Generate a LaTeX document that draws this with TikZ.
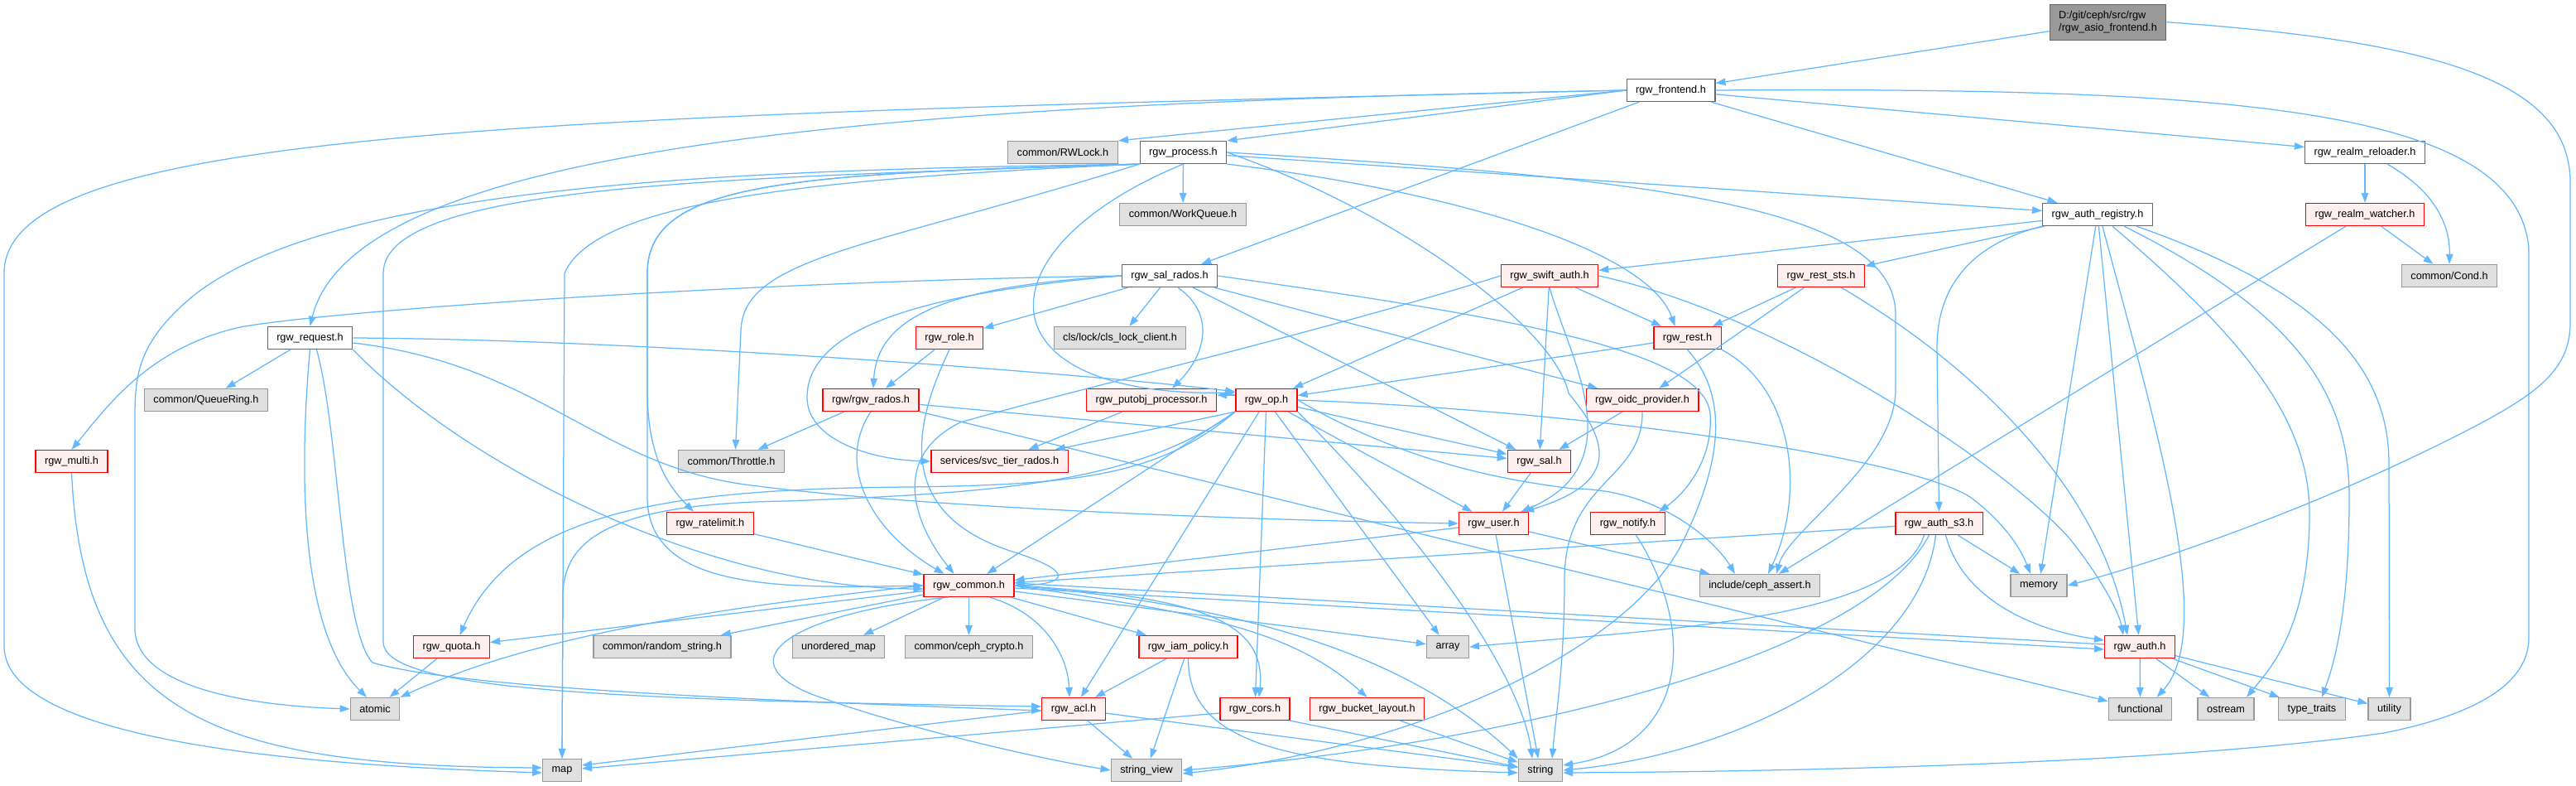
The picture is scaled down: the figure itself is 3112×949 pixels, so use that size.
\documentclass[tikz,border=0pt]{standalone}
\usepackage{fontspec}
\setmainfont{Liberation Sans}
\usetikzlibrary{arrows.meta}
\definecolor{edgeblue}{HTML}{63B8FF}
\definecolor{docgray}{HTML}{666666}
\definecolor{truncred}{HTML}{FF0000}
\definecolor{truncpink}{HTML}{FFF0F0}
\definecolor{sysgray}{HTML}{999999}
\definecolor{sysfill}{HTML}{E0E0E0}
\definecolor{rootgray}{HTML}{999999}
\begin{document}
\begin{tikzpicture}[
	x=1pt, y=1pt,
	box/.style={ draw, line width=1.3pt, font=\fontsize{12.7pt}{15pt}\selectfont, inner xsep=11pt, inner ysep=0pt, minimum height=27pt },
	doc/.style={ box, draw=docgray, fill=white },
	trunc/.style={ box, draw=truncred, fill=truncpink },
	sys/.style={ box, draw=sysgray, fill=sysfill },
	rootbox/.style={ box, draw=docgray, fill=rootgray, align=left, minimum height=43pt },
	dep/.style={ edgeblue, line width=1.25pt, -{Triangle[length=12pt,width=8.5pt]} }
]

\path[use as bounding box, fill=white] (0,0) rectangle (3112,-949);

\node at (2546.5,-26.7) (root) [rootbox] {D:/git/ceph/src/rgw\\/rgw\_asio\_frontend.h};
\node at (2018.5,-109) (frontend) [doc] {rgw\_frontend.h};
\node at (1284,-184) (rwlock) [sys] {common/RWLock.h};
\node at (1429.5,-184) (process) [doc] {rgw\_process.h};
\node at (2857,-184) (reloader) [doc] {rgw\_realm\_reloader.h};
\node at (1429,-259) (workqueue) [sys] {common/WorkQueue.h};
\node at (2534,-259) (authreg) [doc] {rgw\_auth\_registry.h};
\node at (2857,-259) (watcher) [trunc] {rgw\_realm\_watcher.h};
\node at (2959,-333) (cond) [sys] {common/Cond.h};
\node at (1413,-333) (salrados) [doc] {rgw\_sal\_rados.h};
\node at (1872,-333) (swiftauth) [trunc] {rgw\_swift\_auth.h};
\node at (2200,-333) (reststs) [trunc] {rgw\_rest\_sts.h};
\node at (374.5,-408) (request) [doc] {rgw\_request.h};
\node at (1147,-408) (role) [trunc] {rgw\_role.h};
\node at (1353,-408) (clslock) [sys] {cls/lock/cls\_lock\_client.h};
\node at (2038.5,-408) (rest) [trunc] {rgw\_rest.h};
\node at (249,-483) (queuering) [sys] {common/QueueRing.h};
\node at (1052,-483) (rados) [trunc] {rgw/rgw\_rados.h};
\node at (1391,-483) (putobj) [trunc] {rgw\_putobj\_processor.h};
\node at (1530,-483) (op) [trunc] {rgw\_op.h};
\node at (1984,-483) (oidc) [trunc] {rgw\_oidc\_provider.h};
\node at (86.5,-557) (multi) [trunc] {rgw\_multi.h};
\node at (883.5,-557) (throttle) [sys] {common/Throttle.h};
\node at (1207.5,-557) (svctier) [trunc] {services/svc\_tier\_rados.h};
\node at (1859.5,-557) (sal) [trunc] {rgw\_sal.h};
\node at (858,-632) (ratelimit) [trunc] {rgw\_ratelimit.h};
\node at (1804.5,-632) (user) [trunc] {rgw\_user.h};
\node at (1966.5,-632) (notify) [trunc] {rgw\_notify.h};
\node at (2342.5,-632) (auths3) [trunc] {rgw\_auth\_s3.h};
\node at (1170.5,-707) (common) [trunc] {rgw\_common.h};
\node at (2126,-707) (cephassert) [sys] {include/ceph\_assert.h};
\node at (2463,-707) (memory) [sys] {memory};
\node at (545.5,-781) (quota) [trunc] {rgw\_quota.h};
\node at (800,-781) (randstr) [sys] {common/random\_string.h};
\node at (1013,-781) (umap) [sys] {unordered\_map};
\node at (1170.5,-781) (crypto) [sys] {common/ceph\_crypto.h};
\node at (1435.5,-781) (iam) [trunc] {rgw\_iam\_policy.h};
\node at (1749,-781) (array) [sys] {array};
\node at (2585,-781) (auth) [trunc] {rgw\_auth.h};
\node at (453,-856) (atomic) [sys] {atomic};
\node at (1297,-856) (acl) [trunc] {rgw\_acl.h};
\node at (1516,-856) (cors) [trunc] {rgw\_cors.h};
\node at (1651.5,-856) (layout) [trunc] {rgw\_bucket\_layout.h};
\node at (2585.5,-856) (functional) [sys] {functional};
\node at (2689,-856) (ostream) [sys] {ostream};
\node at (2793,-856) (typetraits) [sys] {type\_traits};
\node at (2886.5,-856) (utility) [sys] {utility};
\node at (679,-930) (map) [sys] {map};
\node at (1385,-930) (strview) [sys] {string\_view};
\node at (1861,-930) (string) [sys] {string};

\draw[dep] (root) -- (frontend);
\draw[dep] (root.east) .. controls (2950,-50) and (3105,-100) .. (3105,-220) -- (3105,-390) .. controls (3105,-450) and (3060,-480) .. (2960,-530) .. controls (2780,-620) and (2600,-680) .. (memory.east);

\draw[dep] (frontend.west) -- (rwlock.north east);
\draw[dep] (frontend.west) -- (process.north east);
\draw[dep] (frontend.west) .. controls (1100,-125) and (430,-170) .. (request.north);
\draw[dep] (frontend.west) .. controls (600,-140) and (5,-160) .. (5,-330) -- (5,-780) .. controls (5,-900) and (400,-925) .. ([yshift=-3]map.west);
\draw[dep] (frontend) -- (salrados);
\draw[dep] (frontend.east) .. controls (2700,-105) and (3040,-130) .. (3055,-300) -- (3055,-770) .. controls (3055,-830) and (2980,-865) .. (2880,-885) .. controls (2600,-925) and (2100,-932) .. ([yshift=-3]string.east);
\draw[dep] (frontend) -- (reloader);
\draw[dep] (frontend) -- (authreg);

\draw[dep] (process) -- (workqueue);
\draw[dep] (process) -- (authreg);
\draw[dep] (process.east) .. controls (2000,-215) and (2290,-250) .. (2290,-380) -- (2290,-470) .. controls (2290,-560) and (2160,-640) .. ([xshift=20]cephassert.north);
\draw[dep] (process.south east) .. controls (1750,-230) and (1990,-300) .. ([xshift=-15]rest.north);
\draw[dep] (process.south) .. controls (1180,-300) and (1180,-480) .. ([yshift=9]op.west);
\draw[dep] (process.south west) .. controls (1050,-300) and (897,-310) .. (895,-400) -- ([xshift=5]throttle.north);
\draw[dep] (process.south west) .. controls (950,-210) and (782,-220) .. (782,-330) -- (782,-470) .. controls (782,-540) and (800,-580) .. ([xshift=-20]ratelimit.north);
\draw[dep] (process.south west) .. controls (950,-210) and (782,-220) .. (782,-330) -- (782,-600) .. controls (782,-715) and (950,-710) .. (common.west);
\draw[dep] (process.south west) .. controls (900,-205) and (400,-220) .. (230,-360) .. controls (160,-420) and (163,-460) .. (163,-520) -- (163,-760) .. controls (165,-830) and (300,-852) .. (atomic.west);
\draw[dep] (process.south west) .. controls (900,-215) and (463,-220) .. (463,-330) -- (463,-775) .. controls (463,-830) and (700,-845) .. ([yshift=3]acl.west);
\draw[dep] (process.south west) .. controls (1000,-215) and (720,-240) .. (682,-330) -- (map.north);
\draw[dep] (process.east) .. controls (1700,-260) and (1880,-400) .. (1895,-475) .. controls (1950,-540) and (1950,-585) .. ([xshift=-6]user.north east);

\draw[dep] (request) -- (queuering);
\draw[dep] (request.south) .. controls (362,-560) and (360,-760) .. ([xshift=-10]atomic.north);
\draw[dep] ([xshift=8]request.south) .. controls (410,-520) and (412,-760) .. (450,-800) .. controls (550,-830) and (900,-845) .. ([yshift=-2]acl.west);
\draw[dep] (request.south east) .. controls (560,-560) and (850,-710) .. ([yshift=-4]common.west);
\draw[dep] (request.east) .. controls (800,-410) and (1350,-455) .. ([yshift=10]op.west);
\draw[dep] ([yshift=-6]request.east) .. controls (650,-440) and (720,-560) .. (900,-585) .. controls (1100,-612) and (1500,-628) .. (user.west);

\draw[dep] (salrados.west) .. controls (900,-340) and (400,-375) .. (290,-395) .. controls (180,-420) and (130,-490) .. (multi.north);
\draw[dep] (salrados.west) .. controls (1100,-355) and (975,-400) .. (975,-480) .. controls (975,-530) and (1050,-555) .. (svctier.west);
\draw[dep] (salrados.west) .. controls (1150,-345) and (1060,-380) .. ([xshift=3]rados.north);
\draw[dep] (salrados) -- (role);
\draw[dep] (salrados) -- (clslock);
\draw[dep] ([xshift=10]salrados.south) .. controls (1470,-380) and (1455,-430) .. ([xshift=25]putobj.north);
\draw[dep] (salrados) -- (sal);
\draw[dep] (salrados) -- (oidc);
\draw[dep] (salrados.east) .. controls (1800,-380) and (2060,-420) .. (2066,-500) .. controls (2070,-560) and (2030,-600) .. ([xshift=-8]notify.north east);

\draw[dep] (role) -- (rados);
\draw[dep] (role.south) .. controls (1100,-520) and (1085,-620) .. (1220,-665) .. controls (1300,-690) and (1290,-705) .. (common.east);

\draw[dep] (rados) -- (throttle);
\draw[dep] (rados.south) .. controls (1010,-560) and (1050,-640) .. ([xshift=-30]common.north);
\draw[dep] (rados) -- (sal);
\draw[dep] (rados) -- (functional);
\draw[dep] (putobj) -- (svctier);

\draw[dep] ([yshift=6]op.west) -- ([yshift=6]putobj.east);
\draw[dep] (op.south west) -- (svctier);
\draw[dep] (op.south west) -- (common);
\draw[dep] (op.south west) .. controls (1400,-575) and (1300,-585) .. (1100,-588) .. controls (800,-590) and (620,-620) .. ([xshift=10]quota.north);
\draw[dep] (op.south west) .. controls (1370,-585) and (1200,-595) .. (950,-605) .. controls (740,-608) and (680,-650) .. (680,-720) -- (map.north);
\draw[dep] (op) -- (acl);
\draw[dep] (op) -- (cors);
\draw[dep] (op) -- (sal);
\draw[dep] (op) -- (user);
\draw[dep] (op) -- (array);
\draw[dep] (op.south east) .. controls (1750,-680) and (1840,-830) .. ([xshift=-10]string.north);
\draw[dep] (op.east) .. controls (1700,-560) and (1820,-580) .. (1900,-590) .. controls (2000,-590) and (2070,-650) .. ([xshift=-30]cephassert.north);
\draw[dep] (op.east) .. controls (1900,-495) and (2300,-550) .. (2380,-600) .. controls (2420,-630) and (2440,-660) .. ([xshift=-10]memory.north);

\draw[dep] (sal) -- (user);
\draw[dep] (oidc) -- (sal);
\draw[dep] (oidc.south) .. controls (1985,-580) and (1890,-580) .. (1890,-700) .. controls (1890,-800) and (1880,-860) .. ([xshift=14]string.north);
\draw[dep] ([xshift=10]notify.south) .. controls (2050,-760) and (2040,-900) .. ([yshift=6]string.east);

\draw[dep] (user) -- (common);
\draw[dep] (user) -- (string);
\draw[dep] (user) -- (cephassert);

\draw[dep] (auths3) -- (common);
\draw[dep] ([xshift=-18]auths3.south) .. controls (2290,-750) and (2000,-760) .. (array.east);
\draw[dep] ([xshift=-12]auths3.south) .. controls (2250,-800) and (1800,-900) .. (strview.east);
\draw[dep] ([xshift=-4]auths3.south) .. controls (2320,-800) and (2100,-910) .. (string.east);
\draw[dep] (auths3) -- (memory);
\draw[dep] ([xshift=8]auths3.south) .. controls (2370,-720) and (2450,-760) .. ([yshift=8]auth.west);

\draw[dep] (common) -- (quota);
\draw[dep] (common) -- (randstr);
\draw[dep] (common) -- (umap);
\draw[dep] (common) -- (crypto);
\draw[dep] (common) -- (iam);
\draw[dep] ([xshift=25]common.south) .. controls (1260,-740) and (1290,-790) .. ([xshift=-5]acl.north);
\draw[dep] (common.east) .. controls (1450,-720) and (1530,-750) .. ([xshift=5]cors.north);
\draw[dep] (common.west) .. controls (850,-735) and (640,-770) .. (atomic.north east);
\draw[dep] ([xshift=-25]common.south) .. controls (960,-740) and (860,-800) .. (1000,-845) .. controls (1100,-880) and (1250,-915) .. (strview.west);
\draw[dep] (common) -- (array);
\draw[dep] ([yshift=-3]common.east) -- ([yshift=-3]auth.west);
\draw[dep] ([yshift=3]auth.west) -- ([yshift=3]common.east);
\draw[dep] (common.east) .. controls (1500,-730) and (1700,-790) .. (string.north west);
\draw[dep] (common.east) .. controls (1450,-740) and (1560,-760) .. (layout.north);

\draw[dep] (iam) -- (acl);
\draw[dep] (iam) -- (strview);
\draw[dep] (iam.south) .. controls (1435,-900) and (1560,-925) .. ([yshift=-3]string.west);
\draw[dep] ([yshift=-2]acl.west) -- ([yshift=6]map.east);
\draw[dep] (acl) -- (strview);
\draw[dep] (acl) -- (string);
\draw[dep] ([yshift=-5]cors.west) -- ([yshift=2]map.east);
\draw[dep] (cors.south east) -- ([yshift=4]string.west);
\draw[dep] (layout) -- (string);

\draw[dep] (auth) -- (functional);
\draw[dep] (auth) -- (ostream);
\draw[dep] (auth) -- (typetraits);
\draw[dep] (auth) -- (utility);
\draw[dep] (quota) -- (atomic);
\draw[dep] (multi.south) .. controls (100,-860) and (250,-925) .. ([yshift=3]map.west);
\draw[dep] (ratelimit) -- (common);

\draw[dep] (rest) -- (op);
\draw[dep] (rest.south east) .. controls (2170,-470) and (2180,-600) .. ([xshift=10]cephassert.north);
\draw[dep] (rest.south) .. controls (2090,-480) and (2080,-560) .. (2030,-660) .. controls (1960,-790) and (1700,-905) .. ([yshift=-4]strview.east);

\draw[dep] (reststs) -- (rest);
\draw[dep] (reststs) -- (oidc);
\draw[dep] (reststs) .. controls (2400,-450) and (2540,-600) .. ([xshift=-15]auth.north);

\draw[dep] (swiftauth.west) .. controls (1600,-400) and (1300,-470) .. (1160,-510) .. controls (1070,-555) and (1110,-640) .. ([xshift=-18]common.north);
\draw[dep] (swiftauth) -- (op);
\draw[dep] (swiftauth) -- (sal);
\draw[dep] (swiftauth.south) .. controls (1895,-430) and (1975,-560) .. ([xshift=-10]user.north east);
\draw[dep] (swiftauth) -- (rest);
\draw[dep] (swiftauth.east) .. controls (2150,-380) and (2420,-560) .. (2500,-650) .. controls (2540,-700) and (2560,-740) .. ([xshift=-20]auth.north);

\draw[dep] (authreg) -- (swiftauth);
\draw[dep] (authreg) -- (reststs);
\draw[dep] (authreg.south west) .. controls (2400,-290) and (2340,-330) .. (2340,-420) -- (auths3.north);
\draw[dep] (authreg) -- (memory);
\draw[dep] (authreg) -- (auth);
\draw[dep] ([xshift=6]authreg.south) .. controls (2600,-500) and (2680,-760) .. ([xshift=20]functional.north);
\draw[dep] ([xshift=18]authreg.south) .. controls (2700,-400) and (2790,-500) .. (2790,-620) .. controls (2790,-760) and (2740,-810) .. ([xshift=25]ostream.north);
\draw[dep] ([xshift=32]authreg.south) .. controls (2780,-380) and (2838,-480) .. (2838,-600) .. controls (2838,-740) and (2820,-800) .. ([xshift=12]typetraits.north);
\draw[dep] ([xshift=47]authreg.south) .. controls (2800,-350) and (2886,-440) .. (2886,-560) -- (utility.north);

\draw[dep] (watcher) -- (cond);
\draw[dep] (watcher) -- (cephassert);
\draw[dep] (reloader) -- (watcher);
\draw[dep] ([xshift=27]reloader.south) .. controls (2940,-230) and (2960,-270) .. (cond.north);

\end{tikzpicture}
\end{document}
